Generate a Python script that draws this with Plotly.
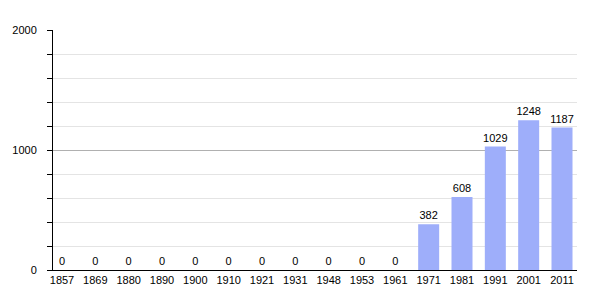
import plotly.graph_objects as go

years = ["1857","1869","1880","1890","1900","1910","1921","1931","1948","1953","1961","1971","1981","1991","2001","2011"]
population = [0,0,0,0,0,0,0,0,0,0,0,382,608,1029,1248,1187]

fig = go.Figure(go.Bar(
    x=years, y=population,
    marker=dict(color="#9eaefa", line=dict(width=0)),
    text=[str(v) for v in population], textposition="outside",
    textfont=dict(family="Liberation Sans, Arial, sans-serif", size=11, color="black"),
    cliponaxis=False,
))
fig.update_layout(
    width=605, height=300, margin=dict(l=50, r=28, t=30, b=30),
    paper_bgcolor="white", plot_bgcolor="white",
    bargap=0.37, showlegend=False,
    uniformtext=dict(minsize=11, mode="show"),
    font=dict(family="Liberation Sans, Arial, sans-serif", size=11, color="black"),
)
fig.update_xaxes(type="category", range=[-0.27, 15.45], showline=True, linecolor="black", linewidth=1,
                 ticks="", showgrid=False, tickfont=dict(size=11))
fig.update_yaxes(range=[0, 2000], tickvals=[0, 1000, 2000], showline=True, linecolor="black", linewidth=1,
                 ticks="outside", ticklen=5, tickcolor="black", showgrid=True, gridcolor="#b0b0b0",
                 zeroline=False, tickfont=dict(size=11), ticklabelstandoff=8,
                 minor=dict(dtick=200, showgrid=True, gridcolor="#e4e4e4", ticks="outside", ticklen=5, tickcolor="black"))
fig.write_html("out.html")
